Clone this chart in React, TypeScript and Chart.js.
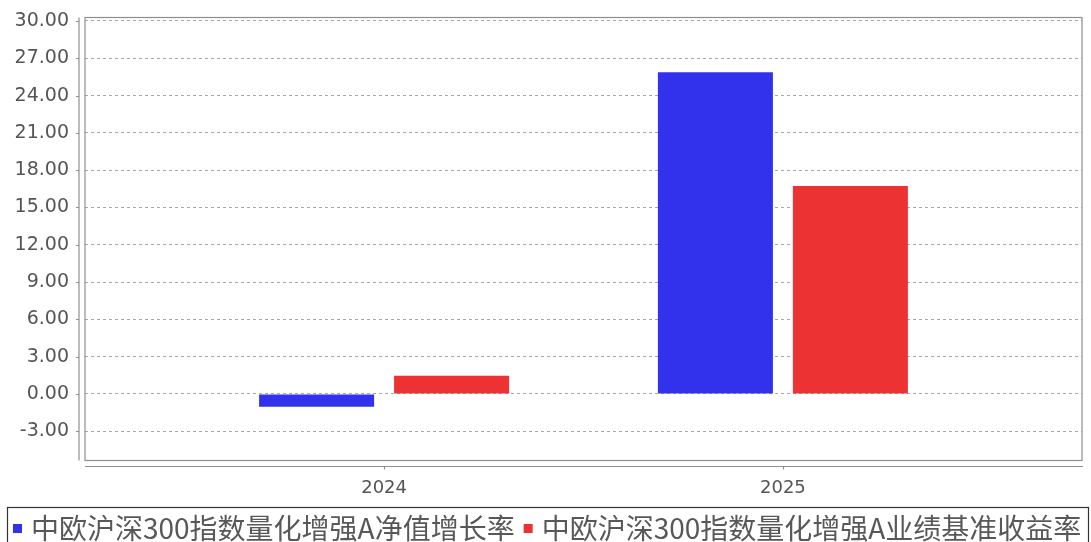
import React, { useEffect, useRef } from "react";
import { Chart, registerables } from "chart.js";

Chart.register(...registerables);

const categories = ["2024", "2025"];
const navGrowth = [-1.02, 25.88];
const benchmarkReturn = [1.47, 16.73];
const seriesNames = [
  "中欧沪深300指数量化增强A净值增长率",
  "中欧沪深300指数量化增强A业绩基准收益率",
];
const seriesColors = ["#3232EC", "#EC3232"];
const yTicks = [-3, 0, 3, 6, 9, 12, 15, 18, 21, 24, 27, 30];

const frameLines = {
  id: "frameLines",
  afterDraw(chart: any) {
    const { ctx, chartArea } = chart;
    const { left, right, top, bottom } = chartArea;
    const yScale = chart.scales.y;
    const xScale = chart.scales.x;
    ctx.save();
    ctx.strokeStyle = "#8f8f8f";
    ctx.lineWidth = 1.2;
    ctx.strokeRect(left, top, right - left, bottom - top);
    // offset y axis line
    ctx.beginPath();
    ctx.moveTo(left - 6, top);
    ctx.lineTo(left - 6, bottom);
    yScale.ticks.forEach((t: any) => {
      const py = Math.round(yScale.getPixelForValue(t.value)) + 0.5;
      ctx.moveTo(left - 9, py);
      ctx.lineTo(left - 6, py);
    });
    // offset x axis line
    ctx.moveTo(left, bottom + 6);
    ctx.lineTo(right + 1, bottom + 6);
    xScale.ticks.forEach((t: any) => {
      const px = Math.round(xScale.getPixelForValue(t.value)) + 0.5;
      ctx.moveTo(px, bottom + 6);
      ctx.lineTo(px, bottom + 9);
    });
    ctx.stroke();

    // legend
    ctx.strokeStyle = "#333";
    ctx.lineWidth = 1.2;
    ctx.strokeRect(7.5, 507.5, 1081, 60);
    ctx.font = "28px 'Noto Sans CJK SC'";
    ctx.textBaseline = "middle";
    ctx.textAlign = "left";
    let x = 13;
    chart.data.datasets.forEach((ds: any) => {
      ctx.fillStyle = ds.backgroundColor;
      ctx.fillRect(x, 524, 9, 9);
      ctx.fillStyle = "#585858";
      ctx.fillText(ds.label, x + 18, 528);
      x += 18 + ctx.measureText(ds.label).width + 9;
    });
    ctx.restore();
  },
};

export default function App() {
  const ref = useRef<HTMLCanvasElement>(null);
  useEffect(() => {
    document.body.style.margin = "0";
    const chart = new Chart(ref.current!, {
      type: "bar",
      data: {
        datasets: [
          {
            label: seriesNames[0],
            data: categories.map((_, i) => ({ x: i, y: navGrowth[i] })),
            backgroundColor: seriesColors[0],
          },
          {
            label: seriesNames[1],
            data: categories.map((_, i) => ({ x: i, y: benchmarkReturn[i] })),
            backgroundColor: seriesColors[1],
          },
        ],
      },
      options: {
        animation: false,
        responsive: false,
        layout: { padding: { top: 17.5, right: 9, left: 0, bottom: 0 } },
        categoryPercentage: 0.677,
        barPercentage: 0.852,
        plugins: { legend: { display: false }, tooltip: { enabled: false } },
        scales: {
          x: {
            type: "linear",
            offset: false,
            min: -0.75,
            max: 1.75,
            afterBuildTicks: (s: any) => {
              s.ticks = categories.map((_, i) => ({ value: i }));
            },
            afterFit: (s: any) => {
              s.height = 81.5;
              s.paddingLeft = 0;
              s.paddingRight = 0;
            },
            grid: { display: false, drawTicks: false },
            border: { display: false },
            ticks: {
              padding: 17,
              color: "#555",
              font: { family: "'DejaVu Sans'", size: 18 },
              callback: (v: any) => categories[v] ?? "",
            },
          },
          y: {
            min: -5.35,
            max: 30.28,
            afterBuildTicks: (s: any) => {
              s.ticks = yTicks.map((v) => ({ value: v }));
            },
            afterFit: (s: any) => {
              s.width = 85;
              s.paddingTop = 0;
              s.paddingBottom = 0;
            },
            grid: { color: "#a8a8a8", lineWidth: 1, drawTicks: false },
            border: { display: false, dash: [3, 3] },
            ticks: {
              padding: 16,
              color: "#555",
              font: { family: "'DejaVu Sans'", size: 19 },
              callback: (v: any) => Number(v).toFixed(2),
            },
          },
        },
      },
      plugins: [frameLines],
    });
    return () => chart.destroy();
  }, []);
  return (
    <div style={{ width: 1091, height: 542 }}>
      <canvas ref={ref} width={1091} height={542} />
    </div>
  );
}
